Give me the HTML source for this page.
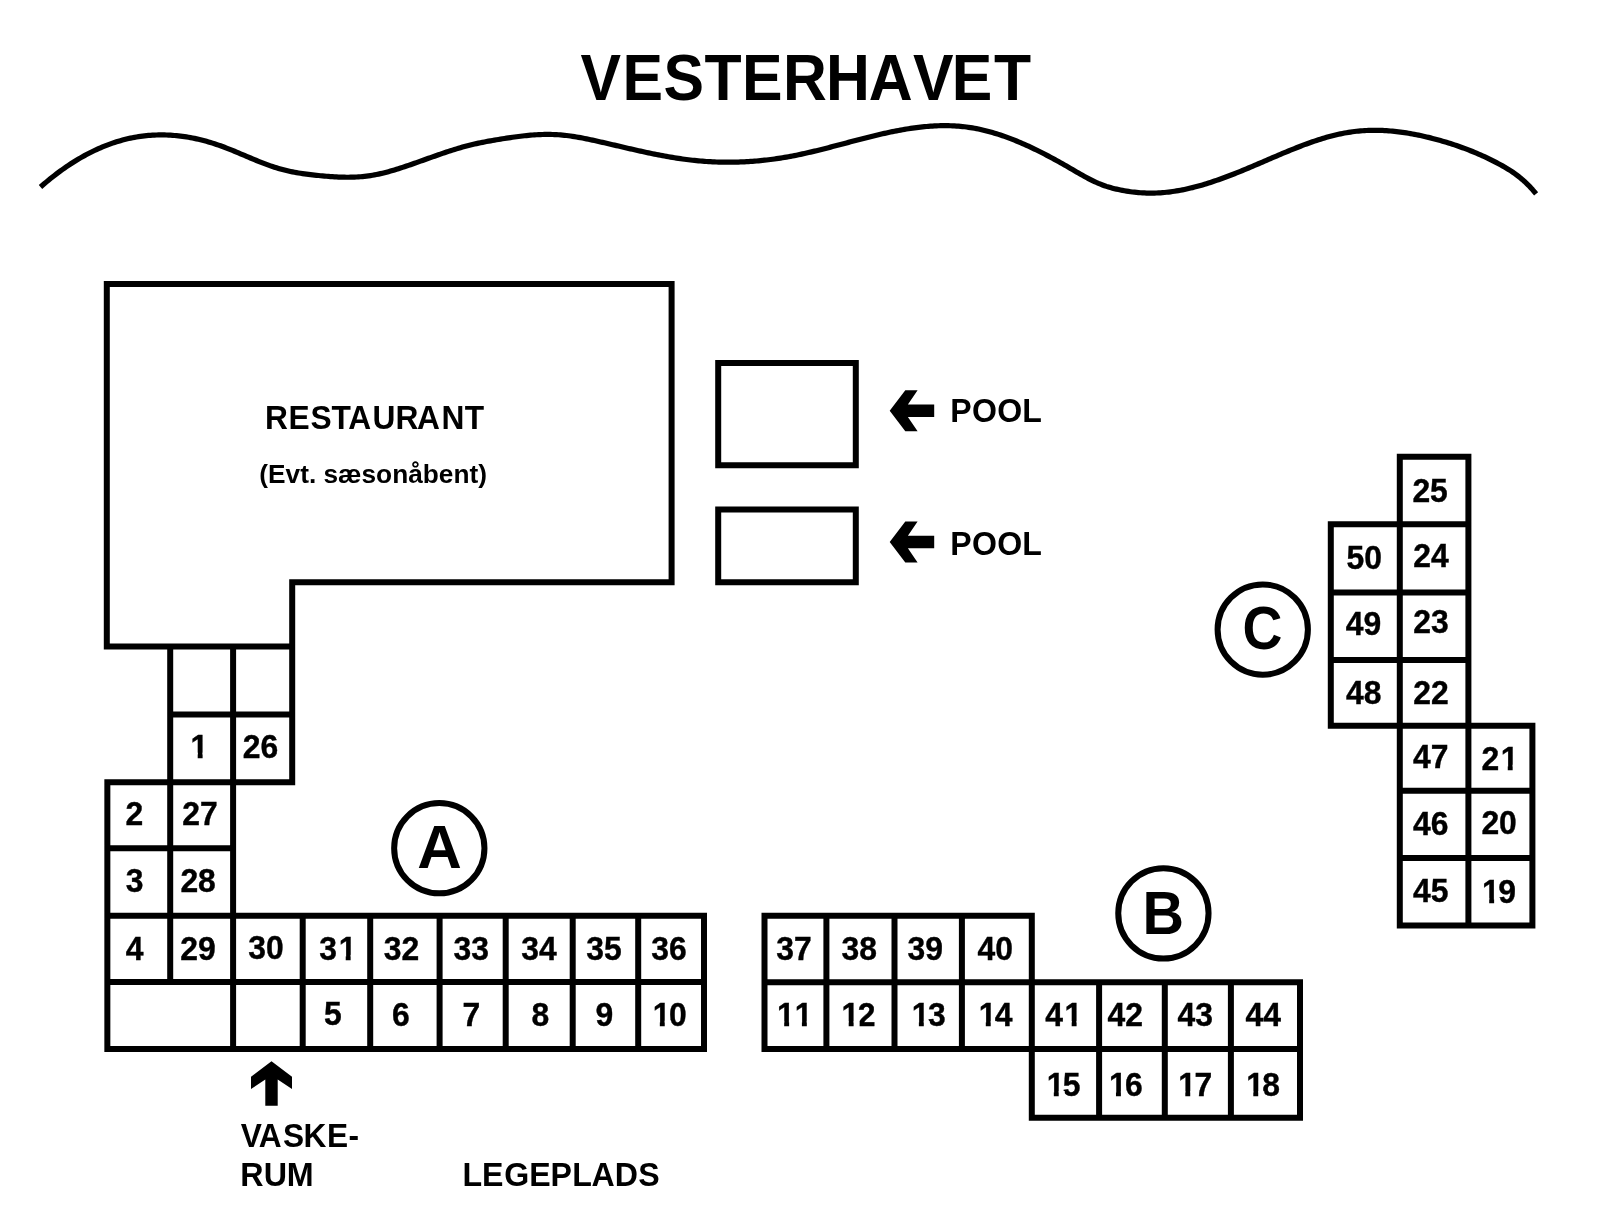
<!DOCTYPE html>
<html><head><meta charset="utf-8"><title>Vesterhavet</title>
<style>
html,body{margin:0;padding:0;background:#fff;width:1606px;height:1205px;overflow:hidden}
svg{display:block}
#wrap{will-change:transform}
text{font-family:"Liberation Sans",sans-serif;font-kerning:none;fill:#000}
text.d{stroke:#000;stroke-width:0.4px}
</style></head><body>
<div id="wrap"><svg width="1606" height="1205" viewBox="0 0 1606 1205">
<rect width="1606" height="1205" fill="#fff"/>
<path d="M40.5 187.02L42.5 185.27L44.5 183.56L46.5 181.87L48.5 180.22L50.5 178.60L52.5 177.00L54.5 175.44L56.5 173.91L58.5 172.41L60.5 170.94L62.5 169.50L64.5 168.08L66.5 166.70L68.5 165.35L70.5 164.03L72.5 162.74L74.5 161.48L76.5 160.25L78.5 159.05L80.5 157.87L82.5 156.73L84.5 155.62L86.5 154.54L88.5 153.49L90.5 152.46L92.5 151.47L94.5 150.51L96.5 149.57L98.5 148.67L100.5 147.79L102.5 146.94L104.5 146.13L106.5 145.34L108.5 144.58L110.5 143.85L112.5 143.15L114.5 142.48L116.5 141.84L118.5 141.22L120.5 140.64L122.5 140.08L124.5 139.56L126.5 139.06L128.5 138.59L130.5 138.15L132.5 137.74L134.5 137.36L136.5 137.00L138.5 136.68L140.5 136.38L142.5 136.11L144.5 135.86L146.5 135.65L148.5 135.46L150.5 135.30L152.5 135.17L154.5 135.06L156.5 134.99L158.5 134.93L160.5 134.91L162.5 134.91L164.5 134.94L166.5 134.99L168.5 135.07L170.5 135.18L172.5 135.31L174.5 135.47L176.5 135.65L178.5 135.86L180.5 136.09L182.5 136.35L184.5 136.63L186.5 136.94L188.5 137.27L190.5 137.63L192.5 138.01L194.5 138.41L196.5 138.84L198.5 139.30L200.5 139.77L202.5 140.28L204.5 140.80L206.5 141.35L208.5 141.92L210.5 142.51L212.5 143.13L214.5 143.77L216.5 144.43L218.5 145.11L220.5 145.82L222.5 146.55L224.5 147.30L226.5 148.06L228.5 148.85L230.5 149.64L232.5 150.45L234.5 151.27L236.5 152.10L238.5 152.94L240.5 153.78L242.5 154.63L244.5 155.47L246.5 156.32L248.5 157.17L250.5 158.01L252.5 158.85L254.5 159.68L256.5 160.50L258.5 161.31L260.5 162.11L262.5 162.89L264.5 163.66L266.5 164.41L268.5 165.14L270.5 165.85L272.5 166.54L274.5 167.20L276.5 167.83L278.5 168.44L280.5 169.02L282.5 169.56L284.5 170.08L286.5 170.56L288.5 171.02L290.5 171.46L292.5 171.87L294.5 172.25L296.5 172.62L298.5 172.96L300.5 173.29L302.5 173.59L304.5 173.88L306.5 174.15L308.5 174.41L310.5 174.66L312.5 174.89L314.5 175.11L316.5 175.32L318.5 175.53L320.5 175.72L322.5 175.91L324.5 176.09L326.5 176.26L328.5 176.43L330.5 176.57L332.5 176.71L334.5 176.84L336.5 176.95L338.5 177.04L340.5 177.12L342.5 177.18L344.5 177.22L346.5 177.24L348.5 177.24L350.5 177.22L352.5 177.18L354.5 177.11L356.5 177.02L358.5 176.90L360.5 176.76L362.5 176.58L364.5 176.38L366.5 176.15L368.5 175.89L370.5 175.59L372.5 175.27L374.5 174.91L376.5 174.52L378.5 174.11L380.5 173.66L382.5 173.19L384.5 172.70L386.5 172.19L388.5 171.65L390.5 171.09L392.5 170.51L394.5 169.92L396.5 169.31L398.5 168.68L400.5 168.04L402.5 167.39L404.5 166.73L406.5 166.05L408.5 165.37L410.5 164.68L412.5 163.99L414.5 163.29L416.5 162.58L418.5 161.87L420.5 161.16L422.5 160.45L424.5 159.73L426.5 159.02L428.5 158.31L430.5 157.60L432.5 156.89L434.5 156.18L436.5 155.48L438.5 154.78L440.5 154.09L442.5 153.41L444.5 152.73L446.5 152.06L448.5 151.40L450.5 150.75L452.5 150.11L454.5 149.49L456.5 148.87L458.5 148.27L460.5 147.68L462.5 147.11L464.5 146.56L466.5 146.02L468.5 145.50L470.5 144.99L472.5 144.51L474.5 144.04L476.5 143.59L478.5 143.16L480.5 142.74L482.5 142.33L484.5 141.94L486.5 141.55L488.5 141.18L490.5 140.82L492.5 140.47L494.5 140.12L496.5 139.78L498.5 139.45L500.5 139.12L502.5 138.80L504.5 138.48L506.5 138.17L508.5 137.87L510.5 137.57L512.5 137.28L514.5 137.00L516.5 136.73L518.5 136.48L520.5 136.23L522.5 135.99L524.5 135.77L526.5 135.57L528.5 135.37L530.5 135.20L532.5 135.03L534.5 134.89L536.5 134.76L538.5 134.66L540.5 134.57L542.5 134.50L544.5 134.45L546.5 134.43L548.5 134.42L550.5 134.44L552.5 134.49L554.5 134.56L556.5 134.65L558.5 134.77L560.5 134.92L562.5 135.09L564.5 135.29L566.5 135.52L568.5 135.77L570.5 136.04L572.5 136.33L574.5 136.64L576.5 136.97L578.5 137.32L580.5 137.68L582.5 138.06L584.5 138.45L586.5 138.86L588.5 139.27L590.5 139.69L592.5 140.13L594.5 140.57L596.5 141.01L598.5 141.46L600.5 141.92L602.5 142.37L604.5 142.83L606.5 143.30L608.5 143.76L610.5 144.22L612.5 144.69L614.5 145.15L616.5 145.62L618.5 146.09L620.5 146.55L622.5 147.02L624.5 147.48L626.5 147.94L628.5 148.41L630.5 148.87L632.5 149.32L634.5 149.78L636.5 150.23L638.5 150.67L640.5 151.12L642.5 151.56L644.5 151.99L646.5 152.42L648.5 152.85L650.5 153.27L652.5 153.68L654.5 154.09L656.5 154.49L658.5 154.89L660.5 155.28L662.5 155.66L664.5 156.03L666.5 156.39L668.5 156.75L670.5 157.09L672.5 157.43L674.5 157.76L676.5 158.08L678.5 158.39L680.5 158.68L682.5 158.97L684.5 159.25L686.5 159.51L688.5 159.76L690.5 160.00L692.5 160.23L694.5 160.44L696.5 160.64L698.5 160.83L700.5 161.01L702.5 161.18L704.5 161.33L706.5 161.47L708.5 161.60L710.5 161.71L712.5 161.82L714.5 161.91L716.5 161.98L718.5 162.05L720.5 162.10L722.5 162.15L724.5 162.18L726.5 162.19L728.5 162.20L730.5 162.19L732.5 162.17L734.5 162.14L736.5 162.09L738.5 162.04L740.5 161.97L742.5 161.89L744.5 161.80L746.5 161.69L748.5 161.58L750.5 161.45L752.5 161.31L754.5 161.15L756.5 160.99L758.5 160.81L760.5 160.62L762.5 160.42L764.5 160.21L766.5 159.98L768.5 159.75L770.5 159.50L772.5 159.23L774.5 158.96L776.5 158.68L778.5 158.38L780.5 158.07L782.5 157.75L784.5 157.42L786.5 157.07L788.5 156.72L790.5 156.35L792.5 155.97L794.5 155.58L796.5 155.18L798.5 154.77L800.5 154.35L802.5 153.91L804.5 153.47L806.5 153.03L808.5 152.57L810.5 152.10L812.5 151.63L814.5 151.15L816.5 150.67L818.5 150.18L820.5 149.68L822.5 149.18L824.5 148.67L826.5 148.16L828.5 147.65L830.5 147.13L832.5 146.60L834.5 146.08L836.5 145.55L838.5 145.03L840.5 144.50L842.5 143.97L844.5 143.43L846.5 142.90L848.5 142.37L850.5 141.84L852.5 141.31L854.5 140.79L856.5 140.26L858.5 139.74L860.5 139.22L862.5 138.70L864.5 138.19L866.5 137.68L868.5 137.18L870.5 136.68L872.5 136.19L874.5 135.70L876.5 135.22L878.5 134.74L880.5 134.28L882.5 133.82L884.5 133.37L886.5 132.92L888.5 132.49L890.5 132.06L892.5 131.65L894.5 131.24L896.5 130.85L898.5 130.47L900.5 130.10L902.5 129.74L904.5 129.39L906.5 129.05L908.5 128.73L910.5 128.42L912.5 128.13L914.5 127.85L916.5 127.58L918.5 127.33L920.5 127.10L922.5 126.88L924.5 126.68L926.5 126.50L928.5 126.33L930.5 126.18L932.5 126.05L934.5 125.94L936.5 125.85L938.5 125.77L940.5 125.72L942.5 125.69L944.5 125.68L946.5 125.68L948.5 125.72L950.5 125.77L952.5 125.84L954.5 125.94L956.5 126.06L958.5 126.21L960.5 126.38L962.5 126.57L964.5 126.79L966.5 127.04L968.5 127.31L970.5 127.61L972.5 127.93L974.5 128.28L976.5 128.66L978.5 129.06L980.5 129.49L982.5 129.94L984.5 130.41L986.5 130.91L988.5 131.43L990.5 131.98L992.5 132.55L994.5 133.14L996.5 133.75L998.5 134.38L1000.5 135.04L1002.5 135.72L1004.5 136.41L1006.5 137.13L1008.5 137.87L1010.5 138.62L1012.5 139.40L1014.5 140.19L1016.5 141.00L1018.5 141.83L1020.5 142.68L1022.5 143.54L1024.5 144.42L1026.5 145.32L1028.5 146.23L1030.5 147.16L1032.5 148.10L1034.5 149.06L1036.5 150.03L1038.5 151.02L1040.5 152.02L1042.5 153.03L1044.5 154.06L1046.5 155.09L1048.5 156.15L1050.5 157.21L1052.5 158.28L1054.5 159.37L1056.5 160.46L1058.5 161.57L1060.5 162.68L1062.5 163.81L1064.5 164.94L1066.5 166.08L1068.5 167.23L1070.5 168.39L1072.5 169.55L1074.5 170.72L1076.5 171.88L1078.5 173.04L1080.5 174.19L1082.5 175.32L1084.5 176.43L1086.5 177.52L1088.5 178.59L1090.5 179.62L1092.5 180.62L1094.5 181.58L1096.5 182.50L1098.5 183.38L1100.5 184.20L1102.5 184.97L1104.5 185.69L1106.5 186.37L1108.5 187.00L1110.5 187.59L1112.5 188.14L1114.5 188.65L1116.5 189.13L1118.5 189.58L1120.5 190.00L1122.5 190.39L1124.5 190.76L1126.5 191.10L1128.5 191.41L1130.5 191.70L1132.5 191.96L1134.5 192.19L1136.5 192.40L1138.5 192.58L1140.5 192.73L1142.5 192.86L1144.5 192.96L1146.5 193.03L1148.5 193.08L1150.5 193.09L1152.5 193.09L1154.5 193.05L1156.5 192.99L1158.5 192.90L1160.5 192.78L1162.5 192.64L1164.5 192.47L1166.5 192.27L1168.5 192.05L1170.5 191.81L1172.5 191.54L1174.5 191.24L1176.5 190.93L1178.5 190.59L1180.5 190.22L1182.5 189.84L1184.5 189.43L1186.5 189.00L1188.5 188.56L1190.5 188.09L1192.5 187.60L1194.5 187.10L1196.5 186.57L1198.5 186.03L1200.5 185.47L1202.5 184.89L1204.5 184.30L1206.5 183.69L1208.5 183.06L1210.5 182.42L1212.5 181.76L1214.5 181.09L1216.5 180.41L1218.5 179.71L1220.5 179.00L1222.5 178.28L1224.5 177.55L1226.5 176.80L1228.5 176.05L1230.5 175.28L1232.5 174.51L1234.5 173.72L1236.5 172.93L1238.5 172.13L1240.5 171.32L1242.5 170.50L1244.5 169.68L1246.5 168.85L1248.5 168.01L1250.5 167.17L1252.5 166.32L1254.5 165.47L1256.5 164.62L1258.5 163.76L1260.5 162.90L1262.5 162.04L1264.5 161.18L1266.5 160.32L1268.5 159.45L1270.5 158.59L1272.5 157.73L1274.5 156.87L1276.5 156.02L1278.5 155.17L1280.5 154.32L1282.5 153.47L1284.5 152.64L1286.5 151.80L1288.5 150.98L1290.5 150.16L1292.5 149.35L1294.5 148.55L1296.5 147.75L1298.5 146.97L1300.5 146.20L1302.5 145.43L1304.5 144.68L1306.5 143.94L1308.5 143.22L1310.5 142.51L1312.5 141.81L1314.5 141.12L1316.5 140.46L1318.5 139.80L1320.5 139.17L1322.5 138.55L1324.5 137.95L1326.5 137.37L1328.5 136.81L1330.5 136.26L1332.5 135.74L1334.5 135.24L1336.5 134.76L1338.5 134.30L1340.5 133.87L1342.5 133.46L1344.5 133.07L1346.5 132.71L1348.5 132.38L1350.5 132.07L1352.5 131.78L1354.5 131.52L1356.5 131.29L1358.5 131.09L1360.5 130.90L1362.5 130.75L1364.5 130.62L1366.5 130.51L1368.5 130.42L1370.5 130.36L1372.5 130.32L1374.5 130.31L1376.5 130.32L1378.5 130.35L1380.5 130.40L1382.5 130.47L1384.5 130.57L1386.5 130.68L1388.5 130.82L1390.5 130.97L1392.5 131.15L1394.5 131.35L1396.5 131.56L1398.5 131.80L1400.5 132.05L1402.5 132.32L1404.5 132.61L1406.5 132.92L1408.5 133.25L1410.5 133.59L1412.5 133.95L1414.5 134.32L1416.5 134.72L1418.5 135.13L1420.5 135.55L1422.5 135.99L1424.5 136.44L1426.5 136.91L1428.5 137.40L1430.5 137.89L1432.5 138.41L1434.5 138.93L1436.5 139.47L1438.5 140.02L1440.5 140.58L1442.5 141.16L1444.5 141.75L1446.5 142.35L1448.5 142.96L1450.5 143.59L1452.5 144.24L1454.5 144.89L1456.5 145.57L1458.5 146.25L1460.5 146.96L1462.5 147.68L1464.5 148.41L1466.5 149.16L1468.5 149.93L1470.5 150.71L1472.5 151.52L1474.5 152.34L1476.5 153.18L1478.5 154.03L1480.5 154.91L1482.5 155.80L1484.5 156.72L1486.5 157.65L1488.5 158.61L1490.5 159.58L1492.5 160.57L1494.5 161.59L1496.5 162.63L1498.5 163.69L1500.5 164.77L1502.5 165.88L1504.5 167.02L1506.5 168.19L1508.5 169.41L1510.5 170.68L1512.5 172.00L1514.5 173.39L1516.5 174.84L1518.5 176.37L1520.5 177.97L1522.5 179.66L1524.5 181.44L1526.5 183.32L1528.5 185.31L1530.5 187.40L1532.5 189.61L1534.5 191.93L1536.1 193.89" fill="none" stroke="#000" stroke-width="5.2" stroke-linecap="butt" stroke-linejoin="round"/>
<g fill="none" stroke="#000" stroke-width="6" stroke-linecap="square" stroke-linejoin="miter">
<path d="M718.2 363L855.8 363L855.8 465.2L718.2 465.2Z"/>
<path d="M718.2 509.4L855.8 509.4L855.8 582.2L718.2 582.2Z"/>
<path d="M106.8 284L671.6 284L671.6 582.3L292.2 582.3L292.2 646.6L106.8 646.6ZM170.2 646.6L170.2 982.0M233.1 646.6L233.1 1049.0M292.2 582.3L292.2 782.2M107.35 782.2L107.35 1049.0M302.7 915.7L302.7 1049.0M370.2 915.7L370.2 1049.0M439.6 915.7L439.6 1049.0M505.7 915.7L505.7 1049.0M572.7 915.7L572.7 1049.0M638.2 915.7L638.2 1049.0M704.0 915.7L704.0 1049.0M170.2 714.4L292.2 714.4M107.35 782.2L292.2 782.2M107.35 848.2L233.1 848.2M107.35 915.7L703.6 915.7M107.35 982.0L703.6 982.0M107.35 1049.0L703.6 1049.0M764.5 915.8L764.5 1049.0M826.4 915.8L826.4 1049.0M894.5 915.8L894.5 1049.0M961.9 915.8L961.9 1049.0M1031.8 915.8L1031.8 1117.8M1099.1 982.2L1099.1 1117.8M1164.8 982.2L1164.8 1117.8M1230.9 982.2L1230.9 1117.8M1300.0 982.2L1300.0 1117.8M764.5 915.8L1031.8 915.8M764.5 982.2L1300.0 982.2M764.5 1049.0L1300.0 1049.0M1031.8 1117.8L1300.0 1117.8M1330.8 524.2L1330.8 725.7M1399.8 456.7L1399.8 925.6M1468.4 456.7L1468.4 925.6M1532.4 725.7L1532.4 925.6M1399.8 456.7L1468.4 456.7M1330.8 524.2L1468.4 524.2M1330.8 592.5L1468.4 592.5M1330.8 659.9L1468.4 659.9M1330.8 725.7L1532.4 725.7M1399.8 790.7L1532.4 790.7M1399.8 858.0L1532.4 858.0M1399.8 925.6L1532.4 925.6"/>
</g>
<g fill="none" stroke="#000" stroke-width="6">
<circle cx="439.3" cy="848.2" r="45.15"/>
<circle cx="1163.4" cy="913.35" r="45.15"/>
<circle cx="1262.75" cy="629.55" r="45.15"/>
</g>
<g fill="#000">
<path d="M889.7 410.7L905.3 390.2L917.6 390.2L907.9 404.5L934.2 404.5L934.2 416.9L907.9 416.9L917.6 431.2L905.3 431.2Z"/>
<path d="M889.7 542.0L905.3 521.5L917.6 521.5L907.9 535.8L934.2 535.8L934.2 548.2L907.9 548.2L917.6 562.5L905.3 562.5Z"/>
<path d="M271.5 1061.2L251.0 1076.8L251.0 1089.1L265.3 1079.4L265.3 1105.7L277.7 1105.7L277.7 1079.4L292.0 1089.1L292.0 1076.8Z"/>
</g>
<g>
<text transform="matrix(0.9456 0 0 1 580.58 99.60)" x="0.00 44.36 87.63 131.16 170.73 213.99 259.46 304.67 351.51 392.49 437.10" font-size="64.25" font-weight="bold">VESTERHAVET</text>
<text transform="matrix(0.9368 0 0 1 264.88 428.90)" x="-0.00 25.19 48.68 71.05 88.95 114.77 139.40 162.39 188.61 213.34" font-size="33.87" font-weight="bold">RESTAURANT</text>
<text transform="matrix(0.9990 0 0 1 259.29 483.10)" font-size="26.31" font-weight="bold">(Evt. sæsonåbent)</text>
<text transform="matrix(0.9684 0 0 1 950.35 421.50)" x="0.00 22.34 48.36 74.25" font-size="33.14" font-weight="bold">POOL</text>
<text transform="matrix(0.9684 0 0 1 950.35 554.50)" x="0.00 22.34 48.36 74.25" font-size="33.14" font-weight="bold">POOL</text>
<text transform="matrix(0.9313 0 0 1 240.68 1147.30)" x="-0.00 19.36 45.32 67.43 92.66 115.83" font-size="34.01" font-weight="bold">VASKE-</text>
<text transform="matrix(0.9532 0 0 1 240.34 1186.00)" x="-0.00 24.46 48.57" font-size="33.87" font-weight="bold">RUM</text>
<text transform="matrix(0.9654 0 0 1 462.55 1186.00)" x="-0.00 20.20 43.12 68.98 91.05 113.52 133.46 157.65 181.91" font-size="33.29" font-weight="bold">LEGEPLADS</text>
<text transform="matrix(1.0157 0 0 1 417.36 867.60)" font-size="60.76" font-weight="bold">A</text>
<text transform="matrix(0.9428 0 0 1 1142.55 933.80)" font-size="61.05" font-weight="bold">B</text>
<text transform="matrix(0.9154 0 0 1 1242.44 648.60)" font-size="60.32" font-weight="bold">C</text>
<text transform="matrix(0.965 0 0 1 189.06 757.50)" x="1.61" font-size="33.0" font-weight="bold" class="d">1</text>
<text transform="matrix(0.965 0 0 1 242.70 757.51)" x="0.00 18.35" font-size="33.0" font-weight="bold" class="d">26</text>
<text transform="matrix(0.965 0 0 1 125.50 825.37)" x="0.00" font-size="33.0" font-weight="bold" class="d">2</text>
<text transform="matrix(0.965 0 0 1 182.30 824.97)" x="0.00 18.35" font-size="33.0" font-weight="bold" class="d">27</text>
<text transform="matrix(0.965 0 0 1 125.87 892.34)" x="0.00" font-size="33.0" font-weight="bold" class="d">3</text>
<text transform="matrix(0.965 0 0 1 180.40 892.36)" x="0.00 18.35" font-size="33.0" font-weight="bold" class="d">28</text>
<text transform="matrix(0.965 0 0 1 125.72 959.65)" x="0.00" font-size="33.0" font-weight="bold" class="d">4</text>
<text transform="matrix(0.965 0 0 1 180.20 959.86)" x="0.00 18.35" font-size="33.0" font-weight="bold" class="d">29</text>
<text transform="matrix(0.965 0 0 1 248.17 959.34)" x="0.00 18.35" font-size="33.0" font-weight="bold" class="d">30</text>
<text transform="matrix(0.965 0 0 1 319.37 959.74)" x="0.00 19.96" font-size="33.0" font-weight="bold" class="d">31</text>
<text transform="matrix(0.965 0 0 1 383.67 960.24)" x="0.00 18.35" font-size="33.0" font-weight="bold" class="d">32</text>
<text transform="matrix(0.965 0 0 1 453.57 960.24)" x="0.00 18.35" font-size="33.0" font-weight="bold" class="d">33</text>
<text transform="matrix(0.965 0 0 1 521.27 960.24)" x="0.00 18.35" font-size="33.0" font-weight="bold" class="d">34</text>
<text transform="matrix(0.965 0 0 1 586.27 960.24)" x="0.00 18.35" font-size="33.0" font-weight="bold" class="d">35</text>
<text transform="matrix(0.965 0 0 1 651.27 960.24)" x="0.00 18.35" font-size="33.0" font-weight="bold" class="d">36</text>
<text transform="matrix(0.965 0 0 1 324.12 1025.39)" x="0.00" font-size="33.0" font-weight="bold" class="d">5</text>
<text transform="matrix(0.965 0 0 1 391.93 1025.56)" x="0.00" font-size="33.0" font-weight="bold" class="d">6</text>
<text transform="matrix(0.965 0 0 1 462.43 1025.70)" x="0.00" font-size="33.0" font-weight="bold" class="d">7</text>
<text transform="matrix(0.965 0 0 1 531.59 1025.56)" x="0.00" font-size="33.0" font-weight="bold" class="d">8</text>
<text transform="matrix(0.965 0 0 1 595.40 1025.56)" x="0.00" font-size="33.0" font-weight="bold" class="d">9</text>
<text transform="matrix(0.965 0 0 1 651.18 1025.56)" x="1.61 18.35" font-size="33.0" font-weight="bold" class="d">10</text>
<text transform="matrix(0.965 0 0 1 776.17 959.84)" x="0.00 18.35" font-size="33.0" font-weight="bold" class="d">37</text>
<text transform="matrix(0.965 0 0 1 841.57 959.84)" x="0.00 18.35" font-size="33.0" font-weight="bold" class="d">38</text>
<text transform="matrix(0.965 0 0 1 907.47 959.84)" x="0.00 18.35" font-size="33.0" font-weight="bold" class="d">39</text>
<text transform="matrix(0.965 0 0 1 977.42 959.86)" x="0.00 18.35" font-size="33.0" font-weight="bold" class="d">40</text>
<text transform="matrix(0.965 0 0 1 775.55 1026.00)" x="1.61 19.96" font-size="33.0" font-weight="bold" class="d">11</text>
<text transform="matrix(0.965 0 0 1 840.05 1026.17)" x="1.61 18.35" font-size="33.0" font-weight="bold" class="d">12</text>
<text transform="matrix(0.965 0 0 1 910.23 1025.99)" x="1.61 18.35" font-size="33.0" font-weight="bold" class="d">13</text>
<text transform="matrix(0.965 0 0 1 977.15 1026.00)" x="1.61 18.35" font-size="33.0" font-weight="bold" class="d">14</text>
<text transform="matrix(0.965 0 0 1 1045.32 1025.90)" x="0.00 19.96" font-size="33.0" font-weight="bold" class="d">41</text>
<text transform="matrix(0.965 0 0 1 1107.42 1026.07)" x="0.00 18.35" font-size="33.0" font-weight="bold" class="d">42</text>
<text transform="matrix(0.965 0 0 1 1177.62 1025.89)" x="0.00 18.35" font-size="33.0" font-weight="bold" class="d">43</text>
<text transform="matrix(0.965 0 0 1 1245.62 1025.90)" x="0.00 18.35" font-size="33.0" font-weight="bold" class="d">44</text>
<text transform="matrix(0.965 0 0 1 1045.16 1095.94)" x="1.61 18.35" font-size="33.0" font-weight="bold" class="d">15</text>
<text transform="matrix(0.965 0 0 1 1107.33 1096.11)" x="1.61 18.35" font-size="33.0" font-weight="bold" class="d">16</text>
<text transform="matrix(0.965 0 0 1 1176.68 1096.10)" x="1.61 18.35" font-size="33.0" font-weight="bold" class="d">17</text>
<text transform="matrix(0.965 0 0 1 1244.66 1096.11)" x="1.61 18.35" font-size="33.0" font-weight="bold" class="d">18</text>
<text transform="matrix(0.965 0 0 1 1412.40 501.61)" x="0.00 18.35" font-size="33.0" font-weight="bold" class="d">25</text>
<text transform="matrix(0.965 0 0 1 1346.42 569.16)" x="0.00 18.35" font-size="33.0" font-weight="bold" class="d">50</text>
<text transform="matrix(0.965 0 0 1 1413.20 567.42)" x="0.00 18.35" font-size="33.0" font-weight="bold" class="d">24</text>
<text transform="matrix(0.965 0 0 1 1345.82 634.96)" x="0.00 18.35" font-size="33.0" font-weight="bold" class="d">49</text>
<text transform="matrix(0.965 0 0 1 1413.20 633.34)" x="0.00 18.35" font-size="33.0" font-weight="bold" class="d">23</text>
<text transform="matrix(0.965 0 0 1 1346.02 703.81)" x="0.00 18.35" font-size="33.0" font-weight="bold" class="d">48</text>
<text transform="matrix(0.965 0 0 1 1413.20 703.72)" x="0.00 18.35" font-size="33.0" font-weight="bold" class="d">22</text>
<text transform="matrix(0.965 0 0 1 1413.12 768.35)" x="0.00 18.35" font-size="33.0" font-weight="bold" class="d">47</text>
<text transform="matrix(0.965 0 0 1 1481.40 769.62)" x="0.00 19.96" font-size="33.0" font-weight="bold" class="d">21</text>
<text transform="matrix(0.965 0 0 1 1413.12 834.61)" x="0.00 18.35" font-size="33.0" font-weight="bold" class="d">46</text>
<text transform="matrix(0.965 0 0 1 1481.40 834.26)" x="0.00 18.35" font-size="33.0" font-weight="bold" class="d">20</text>
<text transform="matrix(0.965 0 0 1 1413.12 901.54)" x="0.00 18.35" font-size="33.0" font-weight="bold" class="d">45</text>
<text transform="matrix(0.965 0 0 1 1480.56 902.81)" x="1.61 18.35" font-size="33.0" font-weight="bold" class="d">19</text>
</g>
<g fill="#fff">
<rect x="191.42" y="752.63" width="6.28" height="6.67"/>
<rect x="202.61" y="752.63" width="6.02" height="6.67"/>
<rect x="339.44" y="954.87" width="6.28" height="6.67"/>
<rect x="350.64" y="954.87" width="6.02" height="6.67"/>
<rect x="653.55" y="1020.69" width="6.28" height="6.67"/>
<rect x="664.74" y="1020.69" width="6.02" height="6.67"/>
<rect x="777.91" y="1021.13" width="6.28" height="6.67"/>
<rect x="789.11" y="1021.13" width="6.02" height="6.67"/>
<rect x="795.62" y="1021.13" width="6.28" height="6.67"/>
<rect x="806.82" y="1021.13" width="6.02" height="6.67"/>
<rect x="842.41" y="1021.30" width="6.28" height="6.67"/>
<rect x="853.61" y="1021.30" width="6.02" height="6.67"/>
<rect x="912.59" y="1021.12" width="6.28" height="6.67"/>
<rect x="923.79" y="1021.12" width="6.02" height="6.67"/>
<rect x="979.51" y="1021.13" width="6.28" height="6.67"/>
<rect x="990.71" y="1021.13" width="6.02" height="6.67"/>
<rect x="1065.39" y="1021.03" width="6.28" height="6.67"/>
<rect x="1076.59" y="1021.03" width="6.02" height="6.67"/>
<rect x="1047.53" y="1091.07" width="6.28" height="6.67"/>
<rect x="1058.72" y="1091.07" width="6.02" height="6.67"/>
<rect x="1109.69" y="1091.24" width="6.28" height="6.67"/>
<rect x="1120.89" y="1091.24" width="6.02" height="6.67"/>
<rect x="1179.04" y="1091.23" width="6.28" height="6.67"/>
<rect x="1190.23" y="1091.23" width="6.02" height="6.67"/>
<rect x="1247.02" y="1091.24" width="6.28" height="6.67"/>
<rect x="1258.22" y="1091.24" width="6.02" height="6.67"/>
<rect x="1501.47" y="764.75" width="6.28" height="6.67"/>
<rect x="1512.66" y="764.75" width="6.02" height="6.67"/>
<rect x="1482.92" y="897.94" width="6.28" height="6.67"/>
<rect x="1494.12" y="897.94" width="6.02" height="6.67"/>
</g>
</svg></div>
</body></html>
